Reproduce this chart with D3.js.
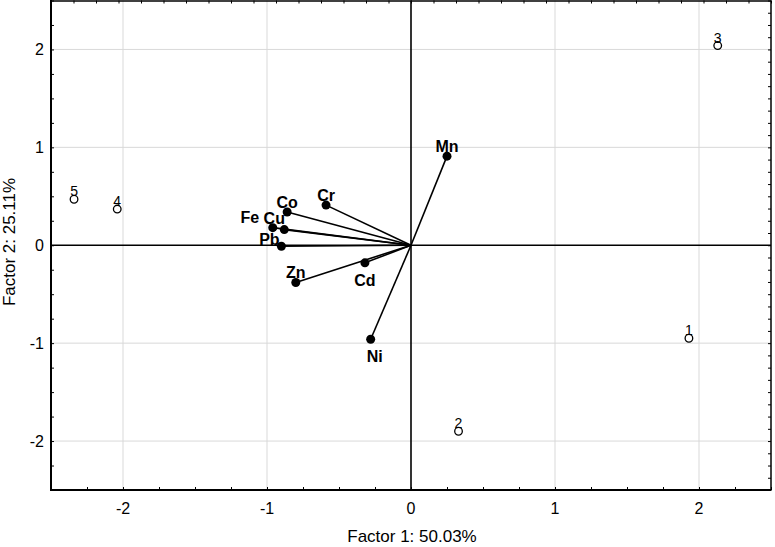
<!DOCTYPE html>
<html>
<head>
<meta charset="utf-8">
<script src="https://cdn.jsdelivr.net/npm/d3@7"></script>
<style>
  html, body { margin: 0; padding: 0; background: #fff; }
  svg { display: block; font-family: "Liberation Sans", Arial, sans-serif; }
</style>
</head>
<body>
<svg id="chart" width="775" height="547"></svg>
<script>
// ---- data ----
const variableNames = ["Mn", "Cr", "Co", "Fe", "Cu", "Pb", "Zn", "Cd", "Ni"];
const variableF1 = [0.25, -0.59, -0.86, -0.96, -0.88, -0.90, -0.80, -0.32, -0.28];
const variableF2 = [0.91, 0.41, 0.34, 0.18, 0.16, -0.01, -0.38, -0.18, -0.96];

const caseNames = ["1", "2", "3", "4", "5"];
const caseF1 = [1.93, 0.33, 2.13, -2.04, -2.34];
const caseF2 = [-0.95, -1.90, 2.04, 0.37, 0.47];

const xTicks = [-2, -1, 0, 1, 2];
const yTicks = [-2, -1, 0, 1, 2];
const xTitle = "Factor 1: 50.03%";
const yTitle = "Factor 2: 25.11%";

// label placement (pixel offsets, presentation only)
const labelOffset = {
  Mn: [0, -4], Cr: [0, -4], Co: [0, -4], Fe: [-23, -5], Cu: [-10, -6],
  Pb: [-12, -1], Zn: [0, -4], Cd: [0, 23], Ni: [4, 23]
};

// ---- layout ----
const svg = d3.select("#chart");
const L = 51, R = 771, T = 0.5, B = 490;
const x = d3.scaleLinear().domain([-2.5, 2.5]).range([L, R]);
const y = d3.scaleLinear().domain([-2.5, 2.5]).range([B, T]);
// secondary (top / right) scales
const xTop = d3.scaleLinear().domain([-4, 4]).range([L, R]);
const yRight = d3.scaleLinear().domain([-2.5, 2.5]).range([B, T]);

// grid
const grid = svg.append("g");
grid.selectAll("line.gx").data(xTicks.filter(d => d !== 0)).join("line")
  .attr("x1", d => x(d)).attr("x2", d => x(d)).attr("y1", T).attr("y2", B)
  .attr("stroke", "#d9d9d9").attr("stroke-width", 1);
grid.selectAll("line.gy").data(yTicks.filter(d => d !== 0)).join("line")
  .attr("y1", d => y(d)).attr("y2", d => y(d)).attr("x1", L).attr("x2", R)
  .attr("stroke", "#d9d9d9").attr("stroke-width", 1);

// axes with inward ticks
const minorX = d3.range(-2.5, 2.5001, 0.25);
const minorY = d3.range(-2.5, 2.5001, 0.25);
svg.append("g").attr("transform", `translate(0,${B})`)
  .call(d3.axisBottom(x).tickValues(minorX).tickSize(-3).tickFormat(""))
  .call(g => g.select(".domain").remove())
  .call(g => g.selectAll("line").attr("stroke", "#000").attr("stroke-width", 1));
svg.append("g").attr("transform", `translate(${L},0)`)
  .call(d3.axisLeft(y).tickValues(minorY).tickSize(-3).tickFormat(""))
  .call(g => g.select(".domain").remove())
  .call(g => g.selectAll("line").attr("stroke", "#000").attr("stroke-width", 1));
svg.append("g").attr("transform", `translate(0,${T})`)
  .call(d3.axisTop(xTop).tickValues(d3.range(-4, 4.001, 0.25)).tickSize(-3).tickFormat(""))
  .call(g => g.select(".domain").remove())
  .call(g => g.selectAll("line").attr("stroke", "#000").attr("stroke-width", 1));
svg.append("g").attr("transform", `translate(${R},0)`)
  .call(d3.axisRight(yRight).tickValues(d3.range(-2.5, 2.5001, 0.125)).tickSize(-3).tickFormat(""))
  .call(g => g.select(".domain").remove())
  .call(g => g.selectAll("line").attr("stroke", "#000").attr("stroke-width", 1));

// tick labels
svg.append("g").selectAll("text").data(xTicks).join("text")
  .attr("x", d => x(d)).attr("y", 514).attr("text-anchor", "middle")
  .attr("font-size", 16).attr("fill", "#000").text(d => d);
svg.append("g").selectAll("text").data(yTicks).join("text")
  .attr("x", 44).attr("y", d => y(d) + 6).attr("text-anchor", "end")
  .attr("font-size", 16).attr("fill", "#000").text(d => d);

// frame
svg.append("line").attr("x1", L).attr("x2", L).attr("y1", T - 0.5).attr("y2", B + 1)
  .attr("stroke", "#000").attr("stroke-width", 2);
svg.append("line").attr("x1", L - 1).attr("x2", R + 0.5).attr("y1", B).attr("y2", B)
  .attr("stroke", "#000").attr("stroke-width", 2);
svg.append("line").attr("x1", L).attr("x2", R).attr("y1", T + 0.5).attr("y2", T + 0.5)
  .attr("stroke", "#000").attr("stroke-width", 1.5);
svg.append("line").attr("x1", R).attr("x2", R).attr("y1", T).attr("y2", B)
  .attr("stroke", "#000").attr("stroke-width", 1.5);

// zero lines
svg.append("line").attr("x1", x(0)).attr("x2", x(0)).attr("y1", T).attr("y2", B)
  .attr("stroke", "#000").attr("stroke-width", 1.6);
svg.append("line").attr("x1", L).attr("x2", R).attr("y1", y(0)).attr("y2", y(0))
  .attr("stroke", "#000").attr("stroke-width", 1.6);

// variable vectors
const vars = variableNames.map((n, i) => ({ name: n, f1: variableF1[i], f2: variableF2[i] }));
svg.append("g").selectAll("line").data(vars).join("line")
  .attr("x1", x(0)).attr("y1", y(0))
  .attr("x2", d => x(d.f1)).attr("y2", d => y(d.f2))
  .attr("stroke", "#000").attr("stroke-width", 1.6);
svg.append("g").selectAll("circle").data(vars).join("circle")
  .attr("cx", d => x(d.f1)).attr("cy", d => y(d.f2)).attr("r", 4.5)
  .attr("fill", "#000");
svg.append("g").selectAll("text").data(vars).join("text")
  .attr("x", d => x(d.f1) + labelOffset[d.name][0])
  .attr("y", d => y(d.f2) + labelOffset[d.name][1])
  .attr("text-anchor", "middle").attr("font-size", 16).attr("font-weight", "bold")
  .attr("fill", "#000").text(d => d.name);

// cases
const cases = caseNames.map((n, i) => ({ name: n, f1: caseF1[i], f2: caseF2[i] }));
svg.append("g").selectAll("circle").data(cases).join("circle")
  .attr("cx", d => x(d.f1)).attr("cy", d => y(d.f2)).attr("r", 3.8)
  .attr("fill", "none").attr("stroke", "#000").attr("stroke-width", 1.3);
svg.append("g").selectAll("text").data(cases).join("text")
  .attr("x", d => x(d.f1)).attr("y", d => y(d.f2) - 3)
  .attr("text-anchor", "middle").attr("font-size", 14).attr("fill", "#000")
  .text(d => d.name);

// axis titles
svg.append("text").attr("x", 412).attr("y", 542).attr("text-anchor", "middle")
  .attr("font-size", 17).attr("fill", "#000").text(xTitle);
svg.append("text").attr("transform", "translate(15,242) rotate(-90)")
  .attr("text-anchor", "middle").attr("font-size", 17).attr("fill", "#000").text(yTitle);
</script>
</body>
</html>
